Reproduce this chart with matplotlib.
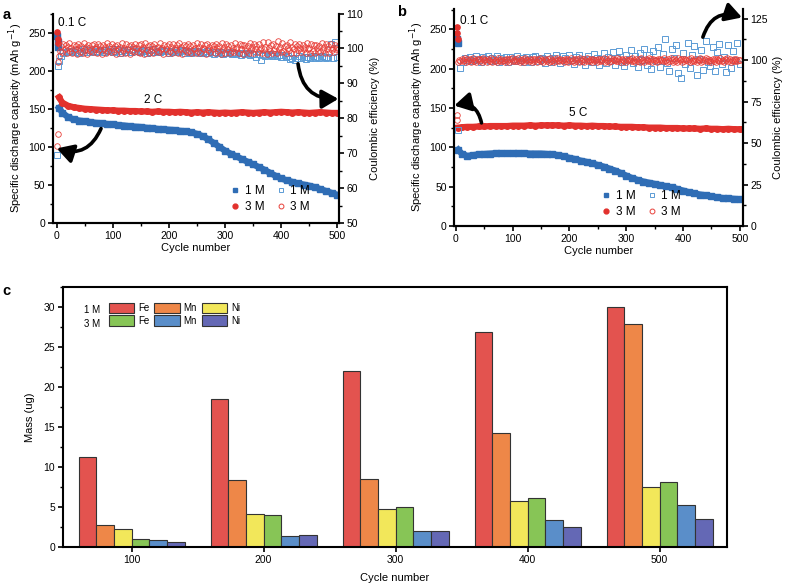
import matplotlib
matplotlib.use("Agg")
import matplotlib.pyplot as plt
from matplotlib.patches import FancyArrowPatch, Patch
from matplotlib.lines import Line2D
from matplotlib.ticker import MultipleLocator

plt.rcParams["font.family"] = ["Liberation Sans", "DejaVu Sans"]
plt.rcParams["font.size"] = 7.5

# ---------------- data ----------------
# formation cycles at 0.1 C
form_cyc = [1, 2, 3]
a_form_1m = [245, 238, 231]
a_form_3m = [251, 242, 236]
b_form_1m = [238, 235, 232]
b_form_3m = [253, 245, 237]

# capacity at high rate, every 10 cycles (first point cycle 4)
cap_cyc = [4] + list(range(10, 501, 10))
a_cap_1m = [151, 145, 139, 136, 134.5, 133.5, 132.5, 131.5, 131, 130, 129.5,
            128.5, 128, 127, 126.5, 126, 125, 124.5, 123.5, 123, 122.5,
            122, 121, 120.5, 119, 117, 114, 110, 105, 100, 95,
            91, 87.5, 84, 80.5, 77, 73.5, 70, 66, 62, 58.5,
            56, 54, 52, 50.5, 49, 47, 44.5, 42, 39.5, 37]
a_cap_3m = [165, 158, 154, 152, 151, 150, 149.5, 149, 148.5, 148, 148,
            147.5, 147.5, 147, 147, 146.5, 146.5, 146, 146.5, 146, 146,
            145.5, 146, 145.5, 145, 145.5, 145, 145.5, 145, 144.5, 145,
            144.5, 145, 145.5, 145, 144.5, 145, 145.5, 145, 145.5, 146,
            145.5, 145, 145.5, 145, 144.5, 145, 145.5, 145, 144.5, 144.5]
b_cap_1m = [97, 92, 89, 90, 91, 91.5, 92, 92.5, 92.5, 92.5, 92.5,
            92.5, 92.5, 92, 92, 92, 91.5, 91, 90, 88.5, 86.5,
            85, 83, 81.5, 79.5, 77.5, 75.5, 73, 70.5, 67.5, 64,
            61, 58.5, 56.5, 55, 53.5, 52, 50.5, 49, 47, 45,
            43, 41.5, 40, 39, 37.5, 36.5, 35.5, 35, 34.5, 34]
b_cap_3m = [125, 125.5, 126, 126, 126.5, 126.5, 127, 127, 127, 127, 127.5,
            127.5, 127.5, 128, 127.5, 128, 128, 128, 128, 127.5, 128,
            127.5, 127.5, 127, 127.5, 127, 127, 126.5, 126.5, 126, 126,
            126, 125.5, 125.5, 125, 125, 125, 124.5, 124.5, 124.5, 124,
            124, 124, 123.5, 124, 123.5, 123.5, 123, 123.5, 123, 123]

# coulombic efficiency: 3 M every 2 cycles, 1 M every 4 cycles
ce2_cyc = list(range(2, 501, 2))
ce4_cyc = list(range(4, 501, 4))

a_ce_early_cyc_1m = [1, 2]
a_ce_early_1m = [69.5, 95.0]
a_ce_early_cyc_3m = [1, 3]
a_ce_early_3m = [72.0, 96.0]
a_ce_1m = [96.5, 97.8, 98.6, 99.0, 99.3, 98.9, 99.4, 99.1, 99.6, 98.8,
           99.3, 99.7, 99.0, 99.5, 98.9, 99.4, 99.8, 99.1, 99.3, 99.6,
           98.9, 99.5, 99.2, 99.7, 99.0, 99.4, 99.8, 98.8, 99.3, 99.6,
           99.1, 99.5, 98.9, 99.7, 99.2, 99.4, 99.0, 99.6, 99.3, 98.8,
           99.5, 99.1, 99.7, 99.0, 99.4, 98.9, 99.6, 99.2, 99.3, 98.8,
           99.4, 99.0, 99.5, 98.9, 99.2, 99.6, 98.8, 99.3, 99.1, 98.7,
           99.2, 98.9, 99.4, 98.6, 99.1, 98.8, 99.3, 98.7, 99.0, 98.5,
           98.9, 98.6, 99.1, 98.4, 98.8, 98.7, 99.0, 98.3, 98.7, 98.5,
           98.8, 98.2, 98.6, 98.4, 98.7, 98.0, 98.5, 98.3, 97.6, 98.4,
           96.6, 98.2, 97.9, 98.4, 98.0, 97.7, 98.3, 97.9, 98.1, 97.6,
           98.0, 97.5, 97.8, 96.9, 97.4, 96.8, 97.2, 97.7, 97.3, 97.6,
           97.1, 97.5, 97.3, 97.8, 97.4, 97.6, 97.2, 97.7, 97.5, 97.3,
           97.6, 101.3, 97.4, 101.7, 97.5]
a_ce_3m = [75.5, 97.8, 99.2, 100.6, 98.9, 101.2, 99.7, 100.9, 98.6, 100.3,
           101.5, 99.4, 100.1, 98.7, 101.0, 99.9, 100.7, 98.5, 101.3, 100.2,
           99.1, 100.8, 98.8, 101.6, 99.6, 100.4, 98.4, 101.1, 100.0, 99.3,
           100.9, 98.9, 101.4, 99.8, 100.5, 98.6, 101.2, 99.5, 100.7, 98.3,
           101.0, 99.9, 100.3, 98.7, 101.5, 99.2, 100.6, 98.9, 101.3, 100.1,
           99.4, 100.8, 98.5, 101.1, 99.7, 100.4, 98.8, 101.6, 99.6, 100.2,
           98.6, 101.3, 99.9, 100.7, 98.4, 101.0, 99.3, 100.5, 98.9, 101.4,
           100.0, 99.1, 100.9, 98.7, 101.2, 99.8, 100.3, 98.5, 101.5, 99.5,
           100.6, 98.8, 101.1, 99.4, 100.8, 98.6, 101.3, 100.1, 99.2, 100.5,
           98.9, 101.6, 99.7, 100.2, 98.4, 101.0, 99.9, 100.7, 98.7, 101.4,
           99.3, 100.4, 98.6, 101.2, 100.0, 99.5, 100.9, 98.8, 101.5, 99.8,
           100.3, 98.5, 101.1, 99.6, 100.6, 98.9, 101.3, 99.2, 100.8, 98.7,
           101.0, 99.9, 100.2, 98.6, 101.6, 99.4, 100.5, 98.8, 101.2, 100.1,
           99.7, 100.9, 98.4, 101.4, 99.5, 100.3, 98.9, 101.1, 99.8, 100.6,
           98.7, 101.3, 100.0, 99.2, 100.8, 98.5, 101.5, 99.6, 100.4, 98.8,
           101.2, 99.9, 100.7, 98.6, 101.0, 99.3, 100.2, 98.9, 101.6, 99.7,
           100.5, 98.7, 101.3, 99.8, 100.9, 98.4, 101.1, 100.1, 99.4, 100.6,
           98.8, 101.5, 99.6, 100.3, 98.6, 101.2, 99.9, 100.8, 98.9, 101.4,
           99.5, 100.0, 98.7, 101.7, 99.8, 100.4, 98.5, 101.9, 100.2, 99.3,
           100.9, 98.8, 101.3, 99.6, 100.6, 98.6, 102.1, 99.9, 100.3, 98.9,
           101.5, 99.4, 100.7, 98.7, 101.1, 100.0, 99.6, 101.8, 98.8, 100.5,
           99.9, 101.2, 98.6, 100.8, 99.5, 101.4, 100.1, 98.9, 101.0, 99.7,
           100.4, 98.7, 101.6, 99.8, 100.2, 98.8, 101.3, 99.4, 100.9, 98.6,
           101.1, 100.0, 99.3, 100.7, 98.9, 101.5, 99.6, 100.3, 98.7, 101.2,
           99.8, 100.6, 98.8, 101.4, 99.5, 100.1, 98.9, 101.0, 99.7, 100.4]

b_ce_early_cyc_3m = [1]
b_ce_early_3m = [67.0]
b_ce_1m = [58.0, 95.5, 99.0, 101.6, 100.4, 102.2, 99.3, 101.0, 102.5, 100.1,
           98.8, 101.8, 100.6, 102.4, 99.5, 101.2, 100.0, 102.7, 99.1, 101.5,
           100.3, 102.1, 98.9, 101.7, 100.8, 99.4, 102.6, 100.2, 101.3, 99.0,
           102.0, 100.5, 98.7, 101.9, 102.8, 99.6, 100.9, 101.4, 98.5, 102.3,
           100.7, 99.2, 101.6, 103.1, 100.0, 98.6, 102.5, 101.1, 99.8, 102.9,
           100.4, 97.9, 101.8, 103.4, 99.3, 101.0, 97.4, 102.7, 100.6, 98.8,
           103.6, 101.2, 96.9, 100.5, 104.1, 98.3, 102.0, 99.5, 104.8, 97.2,
           101.6, 105.3, 99.0, 96.4, 103.2, 100.7, 106.2, 98.1, 102.5, 95.8,
           104.6, 100.0, 107.0, 97.0, 102.9, 94.8, 105.8, 99.4, 108.2, 96.2,
           103.7, 112.6, 98.6, 93.5, 106.9, 101.3, 109.4, 92.3, 89.0, 104.4,
           97.8, 110.2, 95.1, 103.0, 108.6, 90.8, 100.8, 106.4, 94.0, 111.5,
           99.2, 96.3, 107.8, 93.6, 104.9, 109.8, 97.5, 102.2, 92.8, 108.9,
           95.4, 105.7, 100.1, 110.4, 97.9]
b_ce_3m = [64.0, 98.8, 100.4, 99.3, 100.9, 99.7, 100.2, 101.1, 99.0, 100.6,
           99.5, 100.8, 98.9, 100.3, 101.2, 99.6, 100.0, 99.1, 100.7, 101.0,
           99.4, 100.5, 98.8, 101.3, 99.9, 100.2, 99.2, 100.9, 100.1, 99.6,
           101.1, 99.0, 100.6, 99.7, 100.4, 98.9, 101.2, 100.0, 99.4, 100.8,
           99.8, 100.3, 99.1, 101.0, 99.6, 100.7, 98.8, 100.5, 101.3, 99.5,
           100.1, 99.3, 100.9, 99.8, 101.1, 99.0, 100.4, 99.7, 100.6, 98.9,
           101.2, 99.9, 100.2, 99.4, 100.8, 100.0, 99.2, 101.0, 99.6, 100.5,
           98.8, 100.7, 99.9, 101.3, 99.5, 100.1, 99.1, 100.9, 100.3, 99.7,
           100.6, 99.0, 101.1, 99.8, 100.4, 98.9, 100.8, 99.6, 101.2, 100.0,
           99.3, 100.5, 99.9, 100.2, 98.8, 101.0, 99.7, 100.7, 99.2, 100.4,
           101.3, 99.5, 100.0, 99.1, 100.9, 99.8, 100.6, 98.9, 101.1, 100.2,
           99.6, 100.8, 99.0, 100.3, 101.2, 99.4, 100.1, 99.7, 100.5, 98.8,
           100.9, 99.9, 100.4, 99.2, 101.0, 99.6, 100.7, 99.3, 100.2, 101.3,
           99.0, 100.6, 99.8, 100.1, 98.9, 101.1, 99.5, 100.8, 99.9, 100.3,
           99.4, 101.2, 99.7, 100.5, 99.1, 100.9, 100.0, 99.6, 101.0, 98.8,
           100.4, 99.9, 100.7, 99.3, 101.3, 99.5, 100.2, 99.0, 100.8, 99.8,
           100.6, 98.9, 101.1, 99.7, 100.3, 99.2, 100.9, 100.1, 99.4, 101.2,
           99.6, 100.5, 99.0, 100.8, 99.9, 100.0, 98.8, 101.0, 99.5, 100.7,
           100.2, 99.3, 101.3, 99.8, 100.4, 99.1, 100.9, 99.6, 101.1, 100.0,
           98.9, 100.6, 99.7, 100.3, 99.2, 101.2, 99.9, 100.5, 98.8, 100.8,
           99.5, 101.0, 100.1, 99.4, 100.7, 99.0, 101.3, 99.8, 100.2, 99.6,
           100.9, 99.1, 100.4, 99.9, 101.1, 98.9, 100.6, 99.7, 100.0, 101.2,
           99.3, 100.8, 99.6, 100.3, 99.0, 101.0, 99.8, 100.5, 99.2, 100.9,
           100.1, 99.5, 101.3, 99.7, 100.4, 98.8, 100.7, 99.9, 101.1, 99.4,
           100.6, 99.0, 100.2, 99.8, 100.9, 99.3, 101.0, 99.6, 100.3, 99.9]

# panel c: dissolved metal mass (ug)
c_cycles = [100, 200, 300, 400, 500]
c_fe_1m = [11.25, 18.45, 22.05, 26.9, 30.05]
c_mn_1m = [2.75, 8.4, 8.45, 14.25, 27.9]
c_ni_1m = [2.2, 4.1, 4.7, 5.75, 7.5]
c_fe_3m = [1.05, 4.05, 5.0, 6.15, 8.1]
c_mn_3m = [0.9, 1.4, 1.95, 3.4, 5.25]
c_ni_3m = [0.65, 1.5, 1.95, 2.55, 3.45]

BLUE = "#2f6db5"
RED = "#e2312d"
LBLUE = "#5b9bd5"
LRED = "#e8403a"


def style_axes(ax, ax2):
    for a in (ax, ax2):
        a.spines["top"].set_visible(False)
        for s in ("left", "right", "bottom"):
            a.spines[s].set_linewidth(1.5)
        a.tick_params(which="major", direction="out", length=3.5, width=1.2,
                      labelsize=7.5, pad=2)
        a.tick_params(which="minor", direction="out", length=2, width=1.0)
    ax.xaxis.set_major_locator(MultipleLocator(100))
    ax.xaxis.set_minor_locator(MultipleLocator(50))
    ax.yaxis.set_major_locator(MultipleLocator(50))
    ax.yaxis.set_minor_locator(MultipleLocator(25))
    ax.set_xlabel("Cycle number", fontsize=8, labelpad=2)
    ax.set_ylabel("Specific discharge capacity (mAh g$^{-1}$)", fontsize=8, labelpad=2)
    ax2.set_ylabel("Coulombic efficiency (%)", fontsize=8, labelpad=4)


def arrow(ax2, ax, p0, p1, rad):
    arr = FancyArrowPatch(p0, p1, transform=ax.transData,
                          connectionstyle=f"arc3,rad={rad}",
                          arrowstyle="-|>,head_length=0.7,head_width=0.4",
                          mutation_scale=14, lw=2.6, color="black",
                          shrinkA=0, shrinkB=0, clip_on=False, zorder=10)
    ax2.add_artist(arr)


def legend_ab(ax2, x, y):
    hs = [Line2D([], [], ls="none", marker="s", ms=3.5, color=BLUE),
          Line2D([], [], ls="none", marker="o", ms=3.5, color=RED),
          Line2D([], [], ls="none", marker="s", ms=3.5, mfc="none", mec=LBLUE, mew=0.7),
          Line2D([], [], ls="none", marker="o", ms=3.5, mfc="none", mec=LRED, mew=0.7)]
    ax2.legend(hs, ["1 M", "3 M", "1 M", "3 M"], ncol=2, frameon=False,
               loc="lower left", bbox_to_anchor=(x, y), borderpad=0,
               handlelength=0.8, handletextpad=0.4, columnspacing=1.0,
               labelspacing=0.35, fontsize=8.5)


fig = plt.figure(figsize=(7.9, 5.87), dpi=100)

# ---------------- panel a ----------------
ax = fig.add_axes([0.0671, 0.620, 0.362, 0.357])
ax2 = ax.twinx()
ax.plot(form_cyc, a_form_1m, "s", ms=3.8, color=BLUE, zorder=3)
ax.plot(form_cyc, a_form_3m, "o", ms=3.8, color=RED, zorder=3)
ax.plot(cap_cyc, a_cap_1m, "s-", ms=4, lw=4.5, color=BLUE)
ax.plot(cap_cyc, a_cap_3m, "o-", ms=4, lw=4.5, color=RED)
ax2.plot(a_ce_early_cyc_1m + ce4_cyc, a_ce_early_1m + a_ce_1m, "s", ms=4,
         mfc="none", mec=LBLUE, mew=0.7)
ax2.plot(a_ce_early_cyc_3m + ce2_cyc, a_ce_early_3m + a_ce_3m, "o", ms=4,
         mfc="none", mec=LRED, mew=0.6)
ax.set_xlim(-6.6, 503)
ax.set_ylim(0, 275)
ax2.set_ylim(50, 110)
ax2.yaxis.set_major_locator(MultipleLocator(10))
ax2.yaxis.set_minor_locator(MultipleLocator(5))
style_axes(ax, ax2)
ax.text(2, 262, "0.1 C", fontsize=8.5, va="center")
ax.text(172, 162, "2 C", fontsize=8.5, ha="center", va="center")
arrow(ax2, ax, (79, 124), (0, 98), -0.45)
arrow(ax2, ax, (430, 209), (502, 163), 0.45)
legend_ab(ax2, 0.60, 0.02)
fig.text(0.003, 0.975, "a", fontsize=10.5, fontweight="bold", va="center")

# ---------------- panel b ----------------
bx = fig.add_axes([0.575, 0.615, 0.365, 0.370])
bx2 = bx.twinx()
bx.plot(form_cyc, b_form_1m, "s", ms=3.8, color=BLUE, zorder=3)
bx.plot(form_cyc, b_form_3m, "o", ms=3.8, color=RED, zorder=3)
bx.plot(cap_cyc, b_cap_1m, "s-", ms=4, lw=4.5, color=BLUE)
bx.plot(cap_cyc, b_cap_3m, "o-", ms=4, lw=4.5, color=RED)
bx2.plot(ce4_cyc, b_ce_1m, "s", ms=4, mfc="none", mec=LBLUE, mew=0.7)
bx2.plot(b_ce_early_cyc_3m + ce2_cyc, b_ce_early_3m + b_ce_3m, "o", ms=4,
         mfc="none", mec=LRED, mew=0.6)
bx.set_xlim(-3, 505)
bx.set_ylim(0, 276)
bx2.set_ylim(0, 131)
bx2.yaxis.set_major_locator(MultipleLocator(25))
bx2.yaxis.set_minor_locator(MultipleLocator(12.5))
style_axes(bx, bx2)
bx.text(7, 261, "0.1 C", fontsize=8.5, va="center")
bx.text(215, 143, "5 C", fontsize=8.5, ha="center", va="center")
arrow(bx2, bx, (45, 131), (-3, 153), 0.5)
arrow(bx2, bx, (435, 240), (504, 265), -0.5)
legend_ab(bx2, 0.49, 0.01)
fig.text(0.503, 0.980, "b", fontsize=10.5, fontweight="bold", va="center")

# ---------------- panel c ----------------
cx = fig.add_axes([0.0797, 0.0681, 0.8405, 0.443])
series = [(c_fe_1m, "#e3534f"), (c_mn_1m, "#ee8748"), (c_ni_1m, "#f2e75a"),
          (c_fe_3m, "#87c556"), (c_mn_3m, "#5a8ec9"), (c_ni_3m, "#6468b5")]
w = 13.37
offs = [-2.5, -1.5, -0.5, 0.5, 1.5, 2.5]
for (vals, col), o in zip(series, offs):
    cx.bar([c + o * w for c in c_cycles], vals, width=w, color=col,
           edgecolor="#333333", linewidth=0.8)
cx.set_xlim(48, 551)
cx.set_ylim(0, 32.5)
cx.set_xticks(c_cycles)
cx.yaxis.set_major_locator(MultipleLocator(5))
cx.yaxis.set_minor_locator(MultipleLocator(2.5))
for s in cx.spines.values():
    s.set_linewidth(1.5)
cx.tick_params(which="major", direction="out", length=3.5, width=1.2, labelsize=7.5, pad=2)
cx.tick_params(which="minor", direction="out", length=2, width=1.0)
cx.set_xlabel("Cycle number", fontsize=8, labelpad=6)
cx.set_ylabel("Mass (ug)", fontsize=8, labelpad=6)
handles = [Patch(facecolor=col, edgecolor="#333333", linewidth=0.8) for _, col in series]
order = [0, 3, 1, 4, 2, 5]
cx.legend([handles[i] for i in order], ["Fe", "Fe", "Mn", "Mn", "Ni", "Ni"],
          ncol=3, frameon=False, loc="upper left", bbox_to_anchor=(0.062, 0.958),
          borderpad=0, handlelength=2.6, handleheight=1.3, handletextpad=0.4,
          columnspacing=0.5, labelspacing=0.2, fontsize=7)
cx.text(0.056, 0.912, "1 M", transform=cx.transAxes, ha="right", va="center", fontsize=7)
cx.text(0.056, 0.856, "3 M", transform=cx.transAxes, ha="right", va="center", fontsize=7)
fig.text(0.003, 0.505, "c", fontsize=10.5, fontweight="bold", va="center")

fig.savefig("out.png", dpi=100)
